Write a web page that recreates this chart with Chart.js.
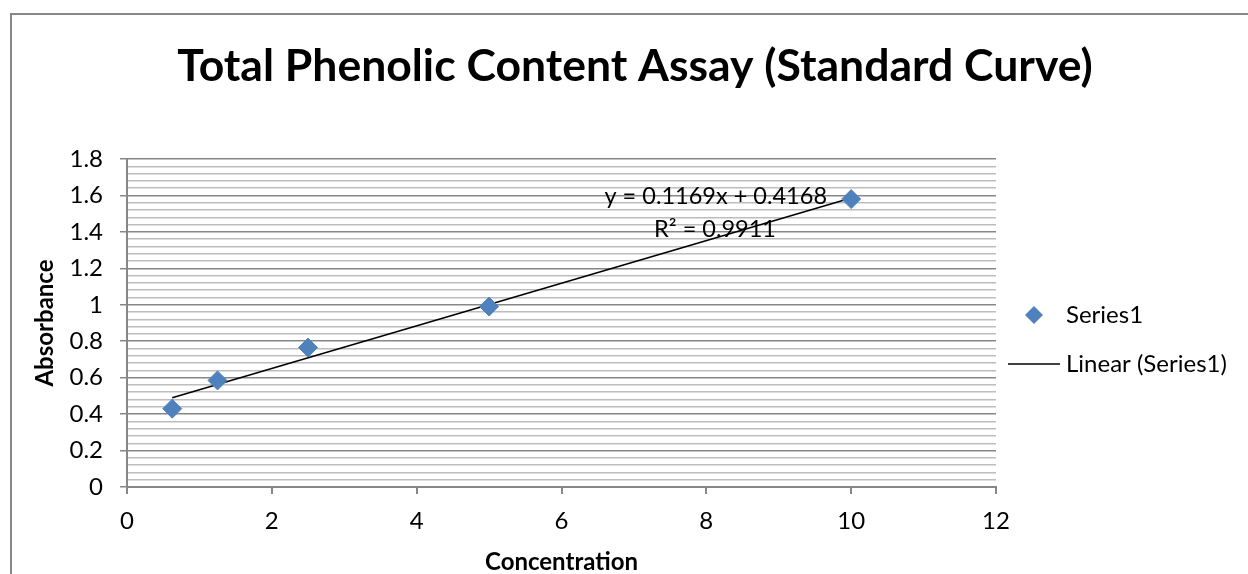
<!DOCTYPE html>
<html lang="en">
<head>
<meta charset="UTF-8">
<title>Total Phenolic Content Assay (Standard Curve)</title>
<style>
  html, body { margin: 0; padding: 0; background: #fff; }
  #wrap { width: 1248px; height: 574px; }
</style>
</head>
<body>
<div id="wrap"><canvas id="myChart" width="1248" height="574"></canvas></div>

<script src="https://cdn.jsdelivr.net/npm/chart.js@4/dist/chart.umd.min.js"></script>
<script>
// values
var concentration = [0.625, 1.25, 2.5, 5, 10];
var absorbance = [0.43, 0.585, 0.765, 0.99, 1.58];
var trendX = [0.625, 10];
var trendY = [0.49, 1.586];
var equationLines = ['y = 0.1169x + 0.4168', 'R\u00b2 = 0.9911'];
var xTicks = [0, 2, 4, 6, 8, 10, 12];
var yTicks = [0, 0.2, 0.4, 0.6, 0.8, 1, 1.2, 1.4, 1.6, 1.8];
var minorPerMajor = 5;

var FONT = 'Lato, Carlito, Calibri, sans-serif';
var BLUE = '#4F81BD';
var GREY = '#878787';
var TXT = 24;

Chart.defaults.font.family = FONT;
Chart.defaults.color = '#000';

// y gridlines: the major ticks plus four light ones in between
var yGrid = [];
for (var i = 0; i < yTicks.length - 1; i++) {
    for (var k = 0; k < minorPerMajor; k++) {
        yGrid.push(+(yTicks[i] + (yTicks[i + 1] - yTicks[i]) * k / minorPerMajor).toFixed(4));
    }
}
yGrid.push(yTicks[yTicks.length - 1]);

function isMajor(v) {
    return yTicks.some(function (t) { return Math.abs(t - v) < 1e-6; });
}

// legend symbols, drawn into a wide image so the text lines up like Excel's
function legendDiamond() {
    var c = document.createElement('canvas');
    c.width = 90; c.height = 20;
    var g = c.getContext('2d');
    g.fillStyle = BLUE;
    g.beginPath();
    g.moveTo(60, 1); g.lineTo(69, 10); g.lineTo(60, 19); g.lineTo(51, 10);
    g.closePath();
    g.fill();
    return c;
}
function legendLine() {
    var c = document.createElement('canvas');
    c.width = 90; c.height = 4;
    var g = c.getContext('2d');
    g.strokeStyle = '#000';
    g.lineWidth = 1.5;
    g.beginPath();
    g.moveTo(34, 2); g.lineTo(86, 2);
    g.stroke();
    return c;
}
var diamondImg = legendDiamond();
var lineImg = legendLine();

var framePlugin = {
    id: 'frame',
    beforeDraw: function (chart) {
        var ctx = chart.ctx;
        ctx.save();
        ctx.strokeStyle = GREY;
        ctx.lineWidth = 2;
        ctx.beginPath();
        ctx.moveTo(11, chart.height);
        ctx.lineTo(11, 14);
        ctx.lineTo(chart.width, 14);
        ctx.stroke();
        ctx.restore();
    }
};

// move the legend where Excel puts it
var legendPlace = {
    id: 'legendPlace',
    afterLayout: function (chart) {
        var lg = chart.legend;
        var pad = lg.options.labels.padding;
        var boxW = lg.options.labels.pointStyleWidth;
        lg.left = 1066 - TXT / 2 - boxW - pad;
        lg.right = chart.width;
        var colH = lg.columnSizes[0].height;
        var cursorY = (lg.top + pad + lg.bottom - colH) / 2;
        var dy = (315 - TXT / 2) - cursorY;
        lg.top += dy;
        lg.bottom += dy;
    }
};

var equationPlugin = {
    id: 'equation',
    afterDatasetsDraw: function (chart) {
        var ctx = chart.ctx;
        var xs = chart.scales.x, ys = chart.scales.y;
        ctx.save();
        ctx.font = '23.5px ' + FONT;
        ctx.fillStyle = '#000';
        ctx.textAlign = 'center';
        ctx.textBaseline = 'middle';
        ctx.fillText(equationLines[0], xs.getPixelForValue(8.13), ys.getPixelForValue(1.592));
        ctx.fillText(equationLines[1], xs.getPixelForValue(8.12), ys.getPixelForValue(1.415));
        ctx.restore();
    }
};

var ctx = document.getElementById('myChart').getContext('2d');
var chart = new Chart(ctx, {
    type: 'scatter',
    data: {
        datasets: [{
            label: 'Series1',
            data: concentration.map(function (c, i) { return { x: c, y: absorbance[i] }; }),
            backgroundColor: BLUE,
            borderColor: BLUE,
            pointStyle: 'rectRot',
            pointRadius: 9.5,
            pointHoverRadius: 9.5,
            order: 1
        }, {
            type: 'line',
            label: 'Linear (Series1)',
            data: trendX.map(function (c, i) { return { x: c, y: trendY[i] }; }),
            borderColor: '#000',
            borderWidth: 1.5,
            pointRadius: 0,
            fill: false,
            order: 2
        }]
    },
    options: {
        responsive: false,
        animation: false,
        layout: { padding: { left: 22, right: 0, top: 0, bottom: 0 } },
        plugins: {
            title: {
                display: true,
                text: 'Total Phenolic Content Assay (Standard Curve)',
                font: { size: 44.5, weight: 'bold' },
                color: '#000',
                padding: { top: 40, bottom: 65.6 }
            },
            legend: {
                position: 'right',
                maxWidth: 252,
                labels: {
                    usePointStyle: true,
                    pointStyleWidth: 70,
                    padding: 25,
                    font: { size: TXT },
                    color: '#000',
                    generateLabels: function () {
                        return [
                            { text: 'Series1', pointStyle: diamondImg, fillStyle: BLUE, strokeStyle: BLUE, lineWidth: 0, datasetIndex: 0 },
                            { text: 'Linear (Series1)', pointStyle: lineImg, fillStyle: '#000', strokeStyle: '#000', lineWidth: 0, datasetIndex: 1 }
                        ];
                    }
                }
            },
            tooltip: { enabled: false }
        },
        scales: {
            x: {
                type: 'linear',
                min: xTicks[0],
                max: xTicks[xTicks.length - 1],
                afterFit: function (s) { s.height = 87; },
                afterBuildTicks: function (s) { s.ticks = xTicks.map(function (v) { return { value: v }; }); },
                ticks: { font: { size: TXT }, color: '#000', padding: 13, autoSkip: false, maxRotation: 0 },
                grid: { drawOnChartArea: false, drawTicks: true, tickLength: 7, tickColor: GREY, lineWidth: 2 },
                border: { color: GREY, width: 2 },
                title: {
                    display: true,
                    text: 'Concentration',
                    font: { size: TXT, weight: 'bold' },
                    color: '#000',
                    padding: { top: 0, bottom: -3 }
                }
            },
            y: {
                type: 'linear',
                min: yTicks[0],
                max: yTicks[yTicks.length - 1],
                afterFit: function (s) { s.width = 105; },
                afterBuildTicks: function (s) { s.ticks = yGrid.map(function (v) { return { value: v }; }); },
                ticks: {
                    font: { size: TXT },
                    color: '#000',
                    padding: 17,
                    autoSkip: false,
                    callback: function (v) { return isMajor(v) ? String(+v.toFixed(1)) : ''; }
                },
                grid: {
                    drawTicks: true,
                    tickLength: 7,
                    color: function (c) { return isMajor(c.tick.value) ? GREY : '#bdbdbd'; },
                    tickColor: function (c) { return isMajor(c.tick.value) ? GREY : 'rgba(0,0,0,0)'; },
                    lineWidth: 1.5
                },
                border: { color: GREY, width: 2 },
                title: {
                    display: true,
                    text: 'Absorbance',
                    font: { size: TXT, weight: 'bold' },
                    color: '#000',
                    padding: { top: 8.6, bottom: 0 }
                }
            }
        }
    },
    plugins: [framePlugin, legendPlace, equationPlugin]
});
</script>
</body>
</html>
